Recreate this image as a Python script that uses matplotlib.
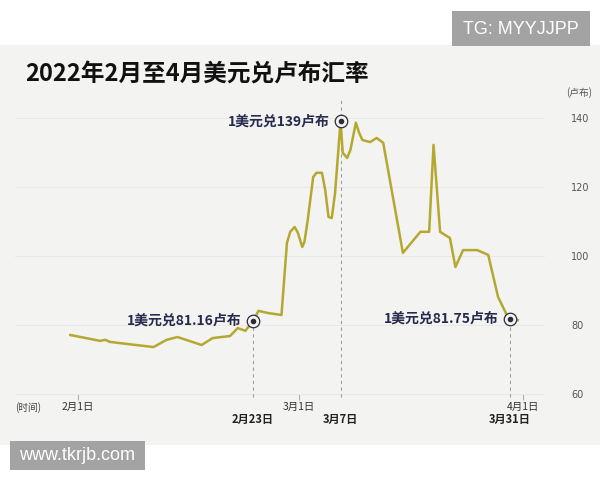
import matplotlib.pyplot as plt
from matplotlib.patches import Rectangle

plt.rcParams["font.family"] = ["Noto Sans CJK SC", "DejaVu Sans"]

# 曲线：横轴为位置（2月1日=0，按交易日计），纵轴为美元兑卢布汇率
pos = [-0.7, 2.0, 2.5, 2.9, 6.9, 8.1, 9.1, 11.3, 12.3, 13.9, 14.6, 15.3,
       16.0, 16.5, 17.3, 18.6, 19.1, 19.4, 19.8, 20.1, 20.5, 20.7, 21.0,
       21.5, 21.8, 22.3, 22.6, 22.9, 23.2, 23.5, 24.0, 24.2, 24.6, 24.9,
       25.4, 25.7, 26.0, 26.7, 27.3, 27.9, 29.7, 31.3, 32.1, 32.5,
       33.1, 34.0, 34.5, 35.2, 36.5, 37.5, 38.4, 39.2, 39.5, 40.2]
rate = [77.1, 75.4, 75.7, 75.1, 73.6, 75.7, 76.5, 74.2, 76.2, 76.8, 79.1, 78.3,
        81.16, 84.1, 83.5, 82.9, 103.8, 107.0, 108.4, 106.7, 102.6, 104.1, 110.4,
        122.9, 124.1, 124.1, 119.1, 111.3, 111.0, 118.3, 139.0, 129.9, 128.4, 130.7,
        138.6, 135.7, 133.6, 133.0, 134.2, 132.8, 100.9, 107.0, 107.0, 132.2,
        107.0, 105.2, 96.8, 101.7, 101.7, 100.3, 88.1, 82.9, 81.75, 81.4]

yticks = [60, 80, 100, 120, 140]
date_pos = [0, 20.2, 40.7]
date_lbl = ["2月1日", "3月1日", "4月1日"]

# 标注点
note_pos = [16.0, 24.0, 39.5]
note_val = [81.16, 139, 81.75]
note_txt = ["1美元兑81.16卢布", "1美元兑139卢布", "1美元兑81.75卢布"]
note_date = ["2月23日", "3月7日", "3月31日"]

W, H = 600, 480
fig = plt.figure(figsize=(6, 4.8), dpi=100)
fig.patch.set_facecolor("white")

# 背景与水印框
fig.patches.append(Rectangle((0, 1 - 445 / H), 1, 400 / H, transform=fig.transFigure,
                             fc="#f3f3f1", ec="none", zorder=-2))
fig.patches.append(Rectangle((452 / W, 1 - 46 / H), 138 / W, 35 / H, transform=fig.transFigure,
                             fc="#a3a3a3", ec="none", zorder=-1))
fig.patches.append(Rectangle((10 / W, 1 - 470 / H), 135 / W, 29 / H, transform=fig.transFigure,
                             fc="#a3a3a3", ec="none", zorder=-1))
fig.text(521 / W, 1 - 29 / H, "TG: MYYJJPP", ha="center", va="center", fontsize=13,
         color="white", family="Liberation Sans")
fig.text(77 / W, 1 - 456 / H, "www.tkrjb.com", ha="center", va="center", fontsize=13,
         color="white", family="Liberation Sans")

ax = fig.add_axes([15 / W, 1 - 400 / H, 530 / W, 300 / H])
ax.set_zorder(2)
ax.patch.set_alpha(0)
for s in ax.spines.values():
    s.set_visible(False)
y0, y1 = 58.26, 145.2
ax.set_xlim(-5.76, 42.69)
ax.set_ylim(y0, y1)

ax.plot(pos, rate, color="#b5a830", lw=1.8, solid_joinstyle="round", zorder=3)

# 网格与刻度
ax.set_yticks(yticks)
ax.grid(axis="y", color="#e8e8e4", lw=0.7)
ax.yaxis.tick_right()
ax.tick_params(axis="y", length=0, pad=19, labelsize=7, labelcolor="#555555")
for lbl in ax.get_yticklabels():
    lbl.set_family("Liberation Sans Narrow")
ax.set_xticks(date_pos, date_lbl)
ax.tick_params(axis="x", direction="in", length=4, color="#b0b0b0", pad=1.5,
               labelsize=7.5, labelcolor="#333333")

# 标注
for x, v, t, d in zip(note_pos, note_val, note_txt, note_date):
    top = y1 if v == max(note_val) else v
    ax.vlines(x, y0 + 1, top, colors="#a0a0a0", linestyles=(0, (3, 3)), lw=0.8, zorder=2)
    ax.plot(x, v, "o", ms=9, mfc="#f3f3f1", mec="#2b2b3a", mew=0.9, zorder=4)
    ax.plot(x, v, "o", ms=3, color="#2b2b3a", zorder=5)
    ax.annotate(t, (x, v), xytext=(-8, 0), textcoords="offset points", ha="right",
                va="center", fontsize=10, fontweight="bold", color="#262a4d")
    ax.annotate(d, (x, 0), xycoords=("data", "axes fraction"), xytext=(0, -14),
                textcoords="offset points", ha="center", va="center", fontsize=8,
                fontweight="bold", color="#222222")

fig.text(25 / W, 1 - 75 / H, "2022年2月至4月美元兑卢布汇率", fontsize=17,
         fontweight="heavy", color="#111111", va="center")
fig.text(579 / W, 1 - 93 / H, "(卢布)", ha="center", va="center", fontsize=7, color="#555555")
fig.text(28 / W, 1 - 408 / H, "(时间)", ha="center", va="center", fontsize=7, color="#444444")

fig.savefig("out.png", dpi=100)
